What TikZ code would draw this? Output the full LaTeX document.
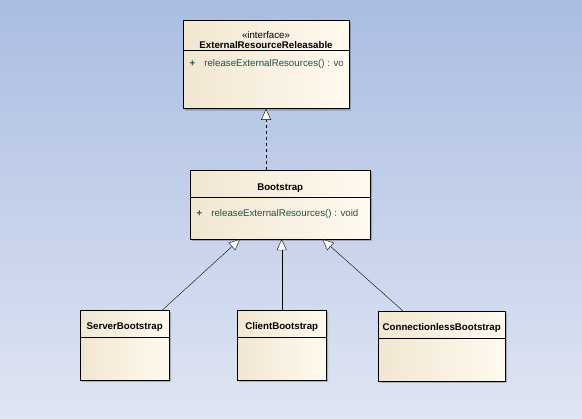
\documentclass[tikz,border=0pt]{standalone}
\usepackage{fontspec}
\setmainfont{Liberation Sans}
\usepackage{xcolor}
\usepackage{trimclip}
\usetikzlibrary{positioning, arrows.meta, shapes.multipart, shadows}
\definecolor{BgTop}{HTML}{AABDE2}
\definecolor{BgBottom}{HTML}{DFE5F3}
\definecolor{BoxLeft}{HTML}{F1E6D1}
\definecolor{BoxRight}{HTML}{FFFAEF}
\definecolor{OpText}{HTML}{1F4F4B}

\begin{document}
\begin{tikzpicture}[x=1pt, y=1pt,
            classbox/.style={draw=black, anchor=north west, rectangle split, rectangle split parts=2, rectangle split part align={center, left}, left color=BoxLeft, right color=BoxRight, inner xsep=6.5pt, inner ysep=0pt, font=\fontsize{9.7}{12.5}\selectfont, drop shadow={shadow xshift=2pt, shadow yshift=-2pt, fill=black, opacity=0.22}},
            realize/.style={dashed, -{Triangle[open, length=11pt, width=10pt, fill=white]}},
            extends/.style={-{Triangle[open, length=11pt, width=10pt, fill=white]}}
        ]

            \shade[top color=BgTop, bottom color=BgBottom] (0,0) rectangle (582,-419);
            \useasboundingbox (0,0) rectangle (582,-419);

            \node[classbox, minimum width=165pt] at (183,-20) (iface) {
                \shortstack{\rule{0pt}{18pt}«interface»\\ \textbf{ExternalResourceReleasable}\rule[-1.5pt]{0pt}{0pt}}
                \nodepart{two}
                \rule[-42pt]{0pt}{58pt}\clipbox{0pt 0pt 9pt 0pt}{\textcolor{OpText}{\textbf{+}\hspace{9pt}releaseExternalResources() : void}}
            };

            \node[classbox, minimum width=180pt] at (190,-170) (boot) {
                \rule[-7pt]{0pt}{27pt}\textbf{Bootstrap}
                \nodepart{two}
                \rule[-22pt]{0pt}{41pt}\textcolor{OpText}{\textbf{+}\hspace{9pt}releaseExternalResources() : void}
            };

            \node[classbox, minimum width=89pt] at (80,-310) (server) {
                \rule[-7.5pt]{0pt}{27pt}\textbf{ServerBootstrap}
                \nodepart{two}
                \rule{0pt}{42pt}
            };

            \node[classbox, minimum width=89pt] at (237,-310) (client) {
                \rule[-7.5pt]{0pt}{27pt}\textbf{ClientBootstrap}
                \nodepart{two}
                \rule{0pt}{42pt}
            };

            \node[classbox, minimum width=127pt, inner xsep=2pt] at (378,-311) (connless) {
                \rule[-7.5pt]{0pt}{27pt}\textbf{ConnectionlessBootstrap}
                \nodepart{two}
                \rule{0pt}{42pt}
            };

            % realization and generalizations
            \draw[realize] (boot.north -| iface.south) -- (iface.south);
            \draw[extends] ([xshift=-7pt]server.north east) -- ([xshift=50pt]boot.south west);
            \draw[extends] (client.north) -- (client.north |- boot.south);
            \draw[extends] ([xshift=25pt]connless.north west) -- ([xshift=-48pt]boot.south east);

        \end{tikzpicture}
\end{document}
